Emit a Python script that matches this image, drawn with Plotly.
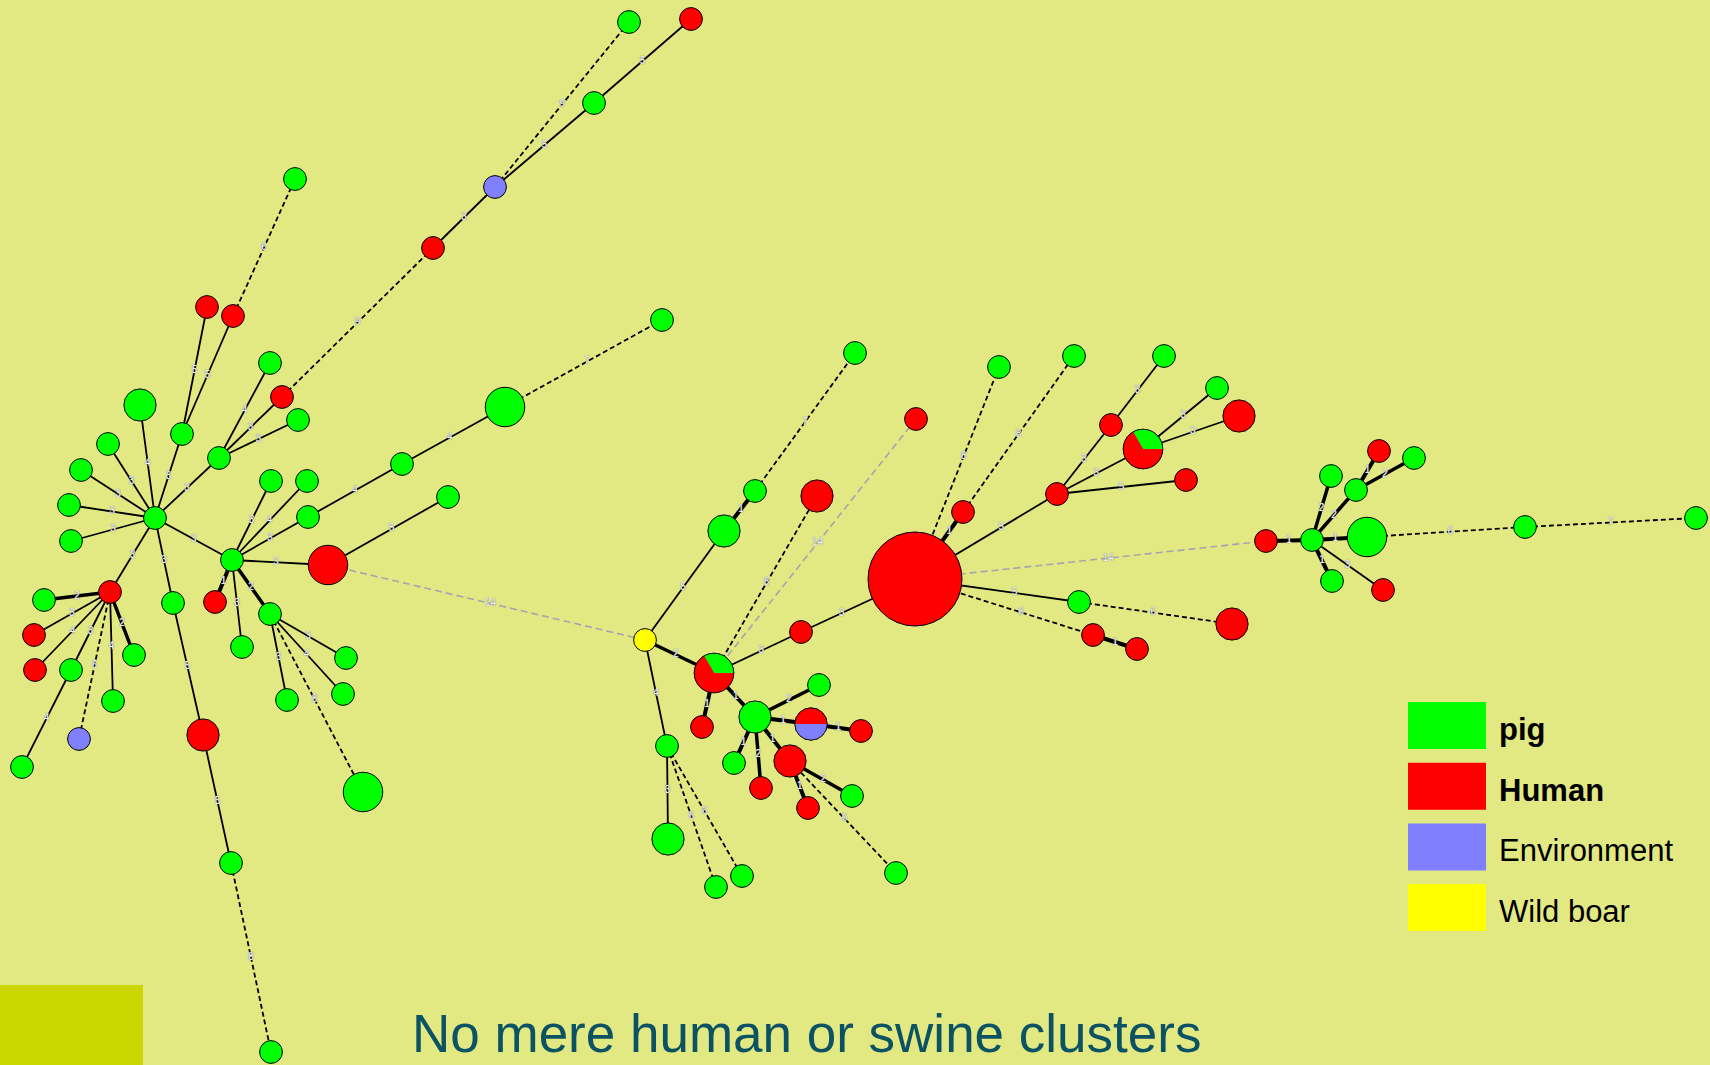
import numpy as np
import plotly.graph_objects as go

BG = "#e3e982"

# ---------------- data: nodes (graph layout coordinates, in picture pixels) ----------------
node_id = ["A0", "A1", "A2", "A3", "A4", "A5", "A6", "A7", "A8", "A9",
           "A10", "A11", "A12", "A13", "A14", "A15", "A16", "A17", "A18", "A19",
           "A20", "A21", "A22", "A23", "A24", "A25", "A26", "A27", "A28", "A29",
           "A30", "A31", "A32", "A33", "A34", "A35", "A36", "A37", "A38", "A39",
           "A40", "A41", "A42", "A43", "A44", "A45", "A46", "A47",
           "Y",
           "B1", "B2", "B3", "B4", "B5", "B6", "B7", "B8", "B9", "B10",
           "B11", "B12", "B13", "B14", "B15", "B16", "B17", "B18", "B19", "B20",
           "B21", "B22", "B23",
           "C1", "C2", "C3", "C4", "C5", "C6", "C7", "C8", "C9", "C10",
           "C11", "C12", "C13", "C14", "C15",
           "D0", "D1", "D2", "D3", "D4", "D5", "D6", "D7", "D8", "D9"]

node_x = [155, 140, 182, 108, 81, 69, 71, 219, 110, 173,
          232, 207, 233, 295, 270, 282, 298, 433, 495, 594,
          629, 691, 271, 307, 308, 402, 328, 448, 215, 242,
          270, 346, 343, 287, 363, 44, 34, 35, 71, 79,
          113, 134, 22, 203, 231, 271, 505, 662,
          645,
          724, 755, 855, 714, 801, 915, 817, 916, 667, 668,
          716, 742, 755, 702, 819, 811, 861, 734, 761, 790,
          852, 808, 896,
          963, 999, 1074, 1057, 1111, 1164, 1143, 1217, 1239, 1186,
          1266, 1079, 1232, 1093, 1137,
          1312, 1367, 1331, 1356, 1379, 1414, 1332, 1383, 1525, 1696]

node_y = [518, 405, 434, 444, 470, 505, 541, 458, 592, 603,
          560, 307, 316, 179, 363, 397, 420, 248, 187, 103,
          22, 19, 481, 481, 517, 464, 565, 497, 602, 647,
          614, 658, 694, 700, 792, 600, 635, 670, 670, 739,
          701, 655, 767, 735, 863, 1052, 407, 320,
          640,
          531, 491, 353, 673, 632, 579, 496, 419, 746, 839,
          887, 876, 717, 727, 685, 724, 731, 763, 788, 761,
          796, 808, 873,
          512, 367, 356, 494, 425, 356, 449, 388, 416, 480,
          541, 602, 624, 635, 649,
          540, 537, 476, 490, 451, 458, 581, 590, 527, 518]

# host type: P pig, H human, E environment, W wild boar, M mixed
node_type = ["P", "P", "P", "P", "P", "P", "P", "P", "H", "P",
             "P", "H", "H", "P", "P", "H", "P", "H", "E", "P",
             "P", "H", "P", "P", "P", "P", "H", "P", "H", "P",
             "P", "P", "P", "P", "P", "P", "H", "H", "P", "E",
             "P", "P", "P", "H", "P", "P", "P", "P",
             "W",
             "P", "P", "P", "M", "H", "H", "H", "H", "P", "P",
             "P", "P", "P", "H", "P", "M", "H", "P", "H", "H",
             "P", "H", "P",
             "H", "P", "P", "H", "H", "P", "M", "P", "H", "H",
             "H", "P", "H", "H", "H",
             "P", "P", "P", "P", "H", "P", "P", "H", "P", "P"]

# number of isolates per node
node_n = [1, 2, 1, 1, 1, 1, 1, 1, 1, 1,
          1, 1, 1, 1, 1, 1, 1, 1, 1, 1,
          1, 1, 1, 1, 1, 1, 3, 1, 1, 1,
          1, 1, 1, 1, 3, 1, 1, 1, 1, 1,
          1, 1, 1, 2, 1, 1, 3, 1,
          1,
          2, 1, 1, 3, 1, 17, 2, 1, 1, 2,
          1, 1, 2, 1, 1, 2, 1, 1, 1, 2,
          1, 1, 1,
          1, 1, 1, 1, 1, 1, 3, 1, 2, 1,
          1, 1, 2, 1, 1,
          1, 3, 1, 1, 1, 1, 1, 1, 1, 1]

# composition of mixed nodes (order of slices)
mixed_comp = {"B4": [("pig", 1), ("human", 2)],
              "B16": [("human", 1), ("env", 1)],
              "C7": [("pig", 1), ("human", 2)]}

# ---------------- data: edges (allelic differences) ----------------
edge_a = ["A0", "A0", "A0", "A0", "A0", "A0", "A0", "A0", "A0", "A0",
          "A2", "A2", "A12",
          "A7", "A7", "A7",
          "A15", "A17", "A18", "A19", "A18",
          "A10", "A10", "A10", "A10", "A10", "A10", "A10",
          "A24", "A25", "A46", "A26",
          "A30", "A30", "A30", "A30",
          "A8", "A8", "A8", "A8", "A8", "A8", "A8", "A38",
          "A9", "A43", "A44",
          "A26",
          "Y", "B1", "B2", "Y", "Y", "B9", "B9", "B9",
          "B4", "B4", "B4", "B5", "B4", "B4",
          "B13", "B13", "B16", "B13", "B13", "B13", "B20", "B20", "B20",
          "B6", "B6", "C1", "B6", "C4", "C5", "C4", "C7", "C7", "C4",
          "B6", "B6", "C12", "B6", "C14",
          "C11", "D0", "D0", "D0", "D3", "D3", "D0", "D0", "D1", "D8"]
edge_b = ["A1", "A2", "A3", "A4", "A5", "A6", "A7", "A8", "A9", "A10",
          "A11", "A12", "A13",
          "A14", "A15", "A16",
          "A17", "A18", "A19", "A21", "A20",
          "A22", "A23", "A24", "A26", "A28", "A29", "A30",
          "A25", "A46", "A47", "A27",
          "A31", "A32", "A33", "A34",
          "A35", "A36", "A37", "A38", "A39", "A40", "A41", "A42",
          "A43", "A44", "A45",
          "Y",
          "B1", "B2", "B3", "B4", "B9", "B10", "B11", "B12",
          "B7", "B8", "B5", "B6", "B14", "B13",
          "B15", "B16", "B17", "B18", "B19", "B20", "B21", "B22", "B23",
          "C1", "C2", "C3", "C4", "C5", "C6", "C7", "C8", "C9", "C10",
          "C11", "C12", "C13", "C14", "C15",
          "D0", "D1", "D2", "D3", "D4", "D5", "D6", "D7", "D8", "D9"]
edge_w = [4, 3, 3, 3, 3, 3, 3, 3, 3, 3,
          5, 5, 6,
          4, 3, 3,
          9, 3, 5, 5, 9,
          3, 4, 3, 3, 1, 3, 2,
          4, 4, 7, 5,
          3, 4, 3, 8,
          2, 3, 4, 3, 6, 4, 2, 4,
          5, 5, 8,
          14,
          5, 1, 7, 2, 4, 3, 6, 6,
          8, 14, 3, 3, 1, 1,
          2, 1, 1, 1, 2, 1, 2, 1, 6,
          1, 8, 8, 5, 3, 3, 3, 3, 3, 5,
          14, 5, 6, 6, 1,
          1, 1, 2, 2, 1, 2, 1, 3, 6, 7]

# ---------------- data: legend ----------------
legend_labels = ["pig", "Human", "Environment", "Wild boar"]
legend_keys = ["pig", "human", "env", "boar"]
legend_bold = [True, True, False, False]
title_text = "No mere human or swine clusters"

cat_colors = {"pig": "#00ff00", "human": "#ff0000", "env": "#8080ff", "boar": "#ffff00"}
type_to_cat = {"P": "pig", "H": "human", "E": "env", "W": "boar", "M": "human"}

# ---------------- derived geometry ----------------
R1 = 11.4
idx = {n: i for i, n in enumerate(node_id)}
radius = [R1 * np.sqrt(n) for n in node_n]


def edge_style(w):
    if w <= 1:
        return "w1", dict(color="black", width=4)
    if w == 2:
        return "w2", dict(color="black", width=3.5)
    if w <= 5:
        return "solid", dict(color="black", width=1.8)
    if w <= 9:
        return "dash", dict(color="black", width=1.8, dash="5px,3px")
    return "gray", dict(color="#a4a4b0", width=1.6, dash="7px,4px")


groups = {}
lab_x, lab_y, lab_t = [], [], []
for a, b, w in zip(edge_a, edge_b, edge_w):
    ia, ib = idx[a], idx[b]
    xa, ya, xb, yb = node_x[ia], node_y[ia], node_x[ib], node_y[ib]
    key, style = edge_style(w)
    g = groups.setdefault(key, {"x": [], "y": [], "line": style})
    g["x"] += [xa, xb, None]
    g["y"] += [ya, yb, None]
    d = np.hypot(xb - xa, yb - ya)
    ux, uy = (xb - xa) / d, (yb - ya) / d
    ra, rb = radius[ia] + 0.5, radius[ib] + 0.5
    sx, sy = xa + ux * ra, ya + uy * ra
    ex, ey = xb - ux * rb, yb - uy * rb
    lab_x.append((sx + ex) / 2)
    lab_y.append((sy + ey) / 2)
    lab_t.append(str(w))

fig = go.Figure()
for key in ["gray", "dash", "solid", "w2", "w1"]:
    if key in groups:
        g = groups[key]
        fig.add_trace(go.Scatter(x=g["x"], y=g["y"], mode="lines", line=g["line"],
                                 hoverinfo="skip", showlegend=False))

fig.add_trace(go.Scatter(x=lab_x, y=lab_y, mode="text", text=lab_t,
                         textfont=dict(family="Liberation Sans, Arial, sans-serif", size=10,
                                       color="#f4f4fa",
                                       shadow="0px 0px 1px #7a7a88, 0px 0px 1px #7a7a88"),
                         hoverinfo="skip", showlegend=False))

colors = [cat_colors[type_to_cat[t]] for t in node_type]
fig.add_trace(go.Scatter(x=node_x, y=node_y, mode="markers",
                         marker=dict(size=[2 * r for r in radius], color=colors,
                                     line=dict(color="black", width=1), opacity=1),
                         hoverinfo="skip", showlegend=False))

# pie slices for mixed nodes
for nid, comp in mixed_comp.items():
    i = idx[nid]
    cx, cy, r = node_x[i], node_y[i], radius[i]
    total = sum(c for _, c in comp)
    start = 0.0
    for cat, c in comp:
        span = 2 * np.pi * c / total
        th = np.linspace(start, start + span, 60)
        px = [cx] + list(cx + r * np.cos(th)) + [cx]
        py = [cy] + list(cy - r * np.sin(th)) + [cy]
        fig.add_trace(go.Scatter(x=px, y=py, mode="lines", fill="toself",
                                 fillcolor=cat_colors[cat],
                                 line=dict(width=0, color=cat_colors[cat]),
                                 hoverinfo="skip", showlegend=False))
        start += span

mix_i = [idx[n] for n in mixed_comp]
fig.add_trace(go.Scatter(x=[node_x[i] for i in mix_i], y=[node_y[i] for i in mix_i], mode="markers",
                         marker=dict(size=[2 * radius[i] for i in mix_i], color="rgba(0,0,0,0)",
                                     line=dict(color="black", width=1)),
                         hoverinfo="skip", showlegend=False))

# ---------------- legend, title, decoration ----------------
shapes = [dict(type="rect", xref="x", yref="y", x0=0, x1=143, y0=985, y1=1065,
               fillcolor="#ccd600", line=dict(width=0), layer="below")]
annotations = []
for k, (lab, key, bold) in enumerate(zip(legend_labels, legend_keys, legend_bold)):
    yc = 725.5 + 60.7 * k
    shapes.append(dict(type="rect", xref="x", yref="y", x0=1408, x1=1486, y0=yc - 23.5, y1=yc + 23.5,
                       fillcolor=cat_colors[key], line=dict(width=0)))
    annotations.append(dict(x=1497, y=yc + 4, xref="x", yref="y", xanchor="left", yanchor="middle",
                            text=("<b>%s</b>" % lab) if bold else lab, showarrow=False,
                            font=dict(family="Liberation Sans, Arial, sans-serif", size=31,
                                      color="black")))
annotations.append(dict(x=410, y=1033, xref="x", yref="y", xanchor="left", yanchor="middle",
                        text=title_text, showarrow=False,
                        font=dict(family="Liberation Sans, Arial, sans-serif", size=53,
                                  color="#0b5263")))

fig.update_layout(width=1710, height=1065, margin=dict(l=0, r=0, t=0, b=0),
                  paper_bgcolor=BG, plot_bgcolor=BG, showlegend=False,
                  xaxis=dict(range=[0, 1710], visible=False, fixedrange=True),
                  yaxis=dict(range=[1065, 0], visible=False, fixedrange=True),
                  shapes=shapes, annotations=annotations)

fig.write_html("out.html", config={"displayModeBar": False},
               post_script="document.body.style.margin='0';document.body.style.overflow='hidden';")
